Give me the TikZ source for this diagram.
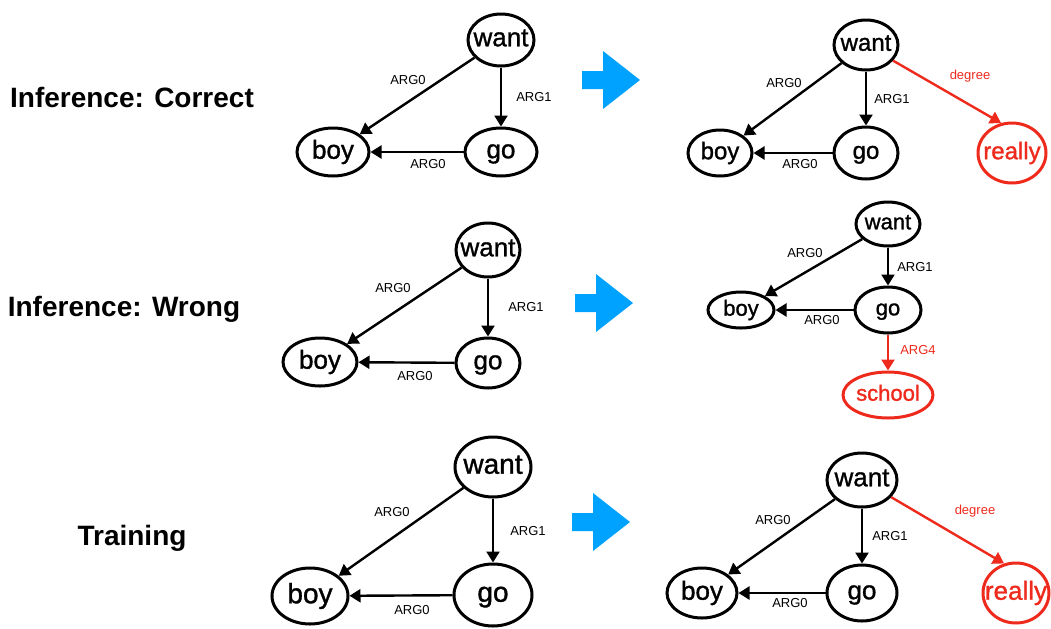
\documentclass[tikz,border=0pt]{standalone}
\usepackage{fontspec}
\setmainfont{Liberation Sans}
\newfontfamily\amrfont[BoldFont=Liberation Sans,BoldFeatures={FakeBold=1.2}]{Liberation Sans}
\usetikzlibrary{shapes.geometric,arrows.meta}
\definecolor{amrred}{RGB}{238,42,28}
\definecolor{amrblue}{RGB}{0,162,255}
\def\nf#1{\fontsize{#1}{#1}\selectfont}
\def\bigarrow{-- ++(21,0) -- ++(0,-20) -- ++(37,29) -- ++(-37,29) -- ++(0,-20) -- ++(-21,0) -- cycle}
\tikzset{
  amr/.style 2 args={ellipse,draw,line width=1.5pt,inner sep=0pt,
    minimum width=#1pt,minimum height=#2pt,
    execute at begin node={\hbox to 0pt\bgroup\hss\amrfont\bfseries\vphantom{Ay}},
    execute at end node={\hss\egroup}},
  added/.style={draw=amrred,text=amrred},
  rel/.style={line width=1.2pt,-{Triangle[length=5.5pt,width=6.5pt]}},
  newrel/.style={rel,amrred},
  lab/.style={inner sep=0pt,font=\nf{6.5}},
  rowlab/.style={font=\nf{14}\bfseries}
}

\begin{document}
\begin{tikzpicture}[x=0.5pt,y=-0.5pt]
\useasboundingbox (0,0) rectangle (1051,628);

\node[rowlab] (rowA) at (132,97) {Inference: Correct};
\node[rowlab] (rowB) at (124,309) {Inference: Wrong};
\node[rowlab] (rowC) at (132,538) {Training};

\fill[amrblue] (582,71) \bigarrow;
\fill[amrblue] (575,294) \bigarrow;
\fill[amrblue] (572,513) \bigarrow;

\begin{scope}[every node/.append style={font=\nf{13}}]
  \node[amr={33}{26}] (wantA) at (501,40) {want};
  \node[amr={36}{24}] (boyA) at (333,152) {boy};
  \node[amr={36}{24}] (goA) at (501,152) {go};
  \draw[rel] (wantA) -- (boyA);
  \draw[rel] (wantA) -- (goA);
  \draw[rel] (goA) -- (boyA);
  \node[lab] (argA1) at (408,80) {ARG0};
  \node[lab] (argA2) at (534,97) {ARG1};
  \node[lab] (argA3) at (428,164) {ARG0};
\end{scope}

\begin{scope}[every node/.append style={font=\nf{12}}]
  \node[amr={32}{25}] (wantB) at (866,45) {want};
  \node[amr={32}{23}] (boyB) at (720,153) {boy};
  \node[amr={32}{26}] (goB) at (866,153) {go};
  \node[amr={34}{30},added] (reallyB) at (1012,153) {really};
  \draw[rel] (wantB) -- (boyB);
  \draw[rel] (wantB) -- (goB);
  \draw[rel] (goB) -- (boyB);
  \draw[newrel] (wantB) -- (reallyB.110);
  \node[lab] (argB1) at (784,83) {ARG0};
  \node[lab] (argB2) at (892,99) {ARG1};
  \node[lab] (argB3) at (800,164) {ARG0};
  \node[lab,text=amrred] (argB4) at (970,76) {degree};
\end{scope}

\begin{scope}[every node/.append style={font=\nf{13}}]
  \node[amr={32}{27}] (wantC) at (488,250) {want};
  \node[amr={37}{24}] (boyC) at (320,362) {boy};
  \node[amr={32}{25}] (goC) at (488,363) {go};
  \draw[rel] (wantC) -- (boyC);
  \draw[rel] (wantC) -- (goC);
  \draw[rel] (goC) -- (boyC);
  \node[lab] (argC1) at (393,288) {ARG0};
  \node[lab] (argC2) at (526,307) {ARG1};
  \node[lab] (argC3) at (415,376) {ARG0};
\end{scope}

\begin{scope}[every node/.append style={font=\nf{11}}]
  \node[amr={32}{22}] (wantD) at (888,224) {want};
  \node[amr={33}{18}] (boyD) at (741,310) {boy};
  \node[amr={33}{23}] (goD) at (888,310) {go};
  \node[amr={45}{23},added] (schoolD) at (888,395) {school};
  \draw[rel] (wantD) -- (boyD);
  \draw[rel] (wantD) -- (goD);
  \draw[rel] (goD) -- (boyD);
  \draw[newrel] (goD) -- (schoolD);
  \node[lab] (argD1) at (805,253) {ARG0};
  \node[lab] (argD2) at (915,267) {ARG1};
  \node[lab] (argD3) at (822,320) {ARG0};
  \node[lab,text=amrred] (argD4) at (918,350) {ARG4};
\end{scope}

\begin{scope}[every node/.append style={font=\nf{14}}]
  \node[amr={38}{30}] (wantE) at (493,467) {want};
  \node[amr={38}{28}] (boyE) at (310,596) {boy};
  \node[amr={39}{31}] (goE) at (493,595) {go};
  \draw[rel] (wantE) -- (boyE);
  \draw[rel] (wantE) -- (goE);
  \draw[rel] (goE) -- (boyE);
  \node[lab] (argE1) at (392,512) {ARG0};
  \node[lab] (argE2) at (528,531) {ARG1};
  \node[lab] (argE3) at (412,610) {ARG0};
\end{scope}

\begin{scope}[every node/.append style={font=\nf{13}}]
  \node[amr={35}{27}] (wantF) at (862,480) {want};
  \node[amr={35}{25}] (boyF) at (702,593) {boy};
  \node[amr={35}{28}] (goF) at (862,593) {go};
  \node[amr={33}{30},added] (reallyF) at (1016,593) {really};
  \draw[rel] (wantF) -- (boyF);
  \draw[rel] (wantF) -- (goF);
  \draw[rel] (goF) -- (boyF);
  \draw[newrel] (wantF) -- (reallyF.112);
  \node[lab] (argF1) at (773,520) {ARG0};
  \node[lab] (argF2) at (890,536) {ARG1};
  \node[lab] (argF3) at (790,603) {ARG0};
  \node[lab,text=amrred] (argF4) at (975,511) {degree};
\end{scope}
\end{tikzpicture}
\end{document}
